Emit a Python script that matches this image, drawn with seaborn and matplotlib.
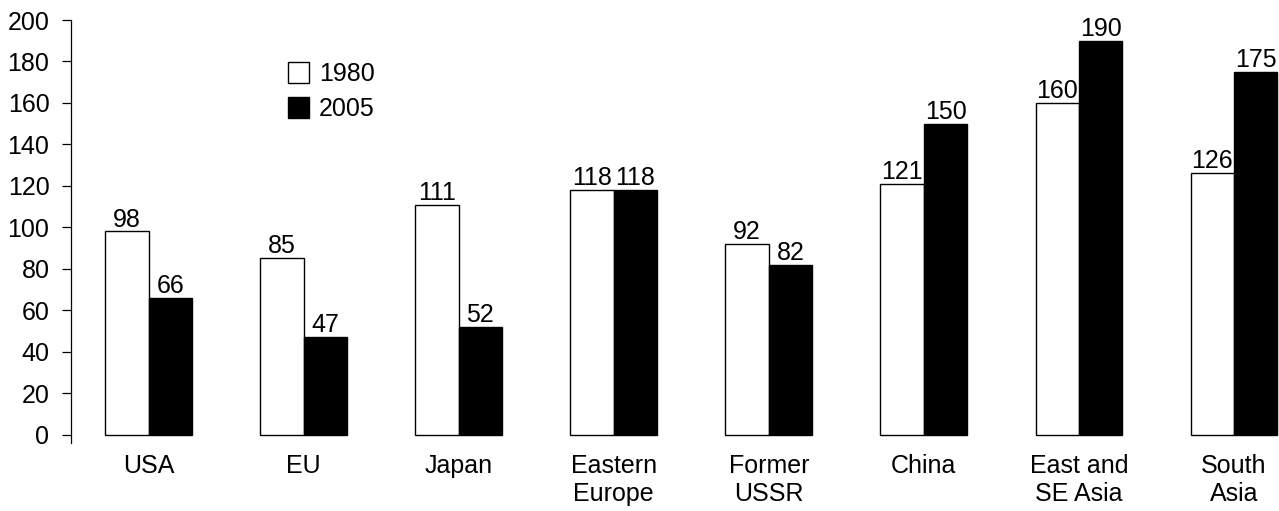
import matplotlib
matplotlib.use("Agg")
import matplotlib.pyplot as plt
import seaborn as sns
import pandas as pd

categories = ["USA", "EU", "Japan", "Eastern\nEurope", "Former\nUSSR", "China",
              "East and\nSE Asia", "South\nAsia"]
years = ["1980", "2005"]
values_1980 = [98, 85, 111, 118, 92, 121, 160, 126]
values_2005 = [66, 47, 52, 118, 82, 150, 190, 175]
y_ticks = [0, 20, 40, 60, 80, 100, 120, 140, 160, 180, 200]

df = pd.DataFrame({
    "region": categories * 2,
    "year": [years[0]] * len(categories) + [years[1]] * len(categories),
    "value": values_1980 + values_2005,
})

sns.set_theme(style="white")
plt.rcParams["font.family"] = ["Liberation Sans", "DejaVu Sans"]
plt.rcParams["text.color"] = "black"
plt.rcParams["xtick.color"] = "black"
plt.rcParams["ytick.color"] = "black"
plt.rcParams["axes.labelcolor"] = "black"

FS = 18

fig = plt.figure(figsize=(12.79, 5.11), dpi=100)
ax = fig.add_axes([71/1279, (511-443)/511, 1 - 71/1279, (443-20)/511])

sns.barplot(data=df, x="region", y="value", hue="year", order=categories,
            hue_order=years, palette={"1980": "white", "2005": "black"},
            edgecolor="black", linewidth=1.0, width=0.56, saturation=1,
            ax=ax, legend=True)

for cont in ax.containers:
    ax.bar_label(cont, padding=0, fontsize=FS, color="black")

ax.set_ylim(-4, 200)
ax.set_xlim(-0.5, 7.29)
ax.set_yticks(y_ticks)
ax.set_xlabel("")
ax.set_ylabel("")
for s in ["top", "right", "bottom"]:
    ax.spines[s].set_visible(False)
ax.spines["left"].set_color("black")
ax.spines["left"].set_linewidth(0.9)
ax.spines["left"].set_bounds(-4, 200)
ax.tick_params(axis="y", direction="out", length=6.5, width=0.9, color="black",
               labelcolor="black", labelsize=FS, pad=9, left=True)
ax.tick_params(axis="x", length=0, labelsize=FS, labelcolor="black", pad=8)

handles, labels = ax.get_legend_handles_labels()
leg = ax.legend(handles, labels, loc="upper left",
                bbox_to_anchor=(288/1279, 1 - 62/511),
                bbox_transform=fig.transFigure, frameon=False, fontsize=FS,
                handlelength=0.85, handleheight=0.9, handletextpad=0.4,
                labelspacing=0.45, borderpad=0, borderaxespad=0)
for t in leg.get_texts():
    t.set_color("black")

fig.savefig("out.png", dpi=100)
